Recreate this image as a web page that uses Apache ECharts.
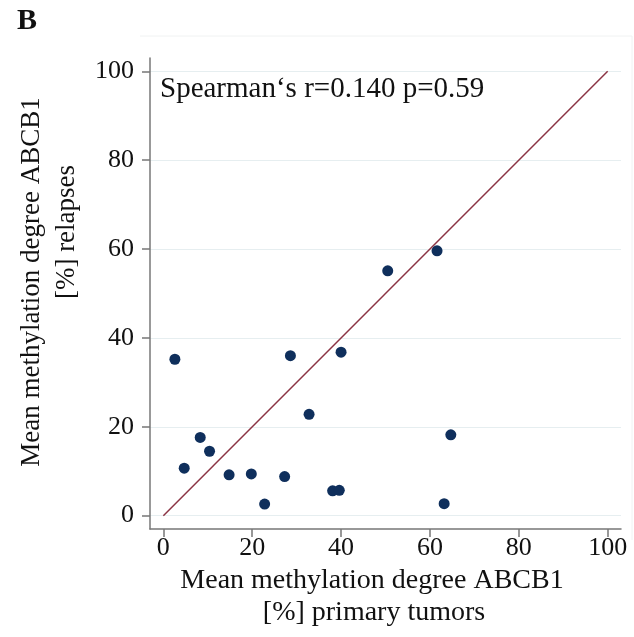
<!DOCTYPE html>
<html>
<head>
<meta charset="utf-8">
<script src="https://cdn.jsdelivr.net/npm/echarts@6/dist/echarts.min.js"></script>
<style>
  html, body { margin: 0; padding: 0; background: #fff; }
  #main { width: 634px; height: 637px; }
</style>
</head>
<body>
<div id="main"></div>
<script>
// mean methylation ABCB1 [%], primary tumor vs relapse
const primaryTumors = [2.6, 4.7, 8.3, 10.4, 14.8, 19.8, 22.8, 27.3, 28.6, 32.8, 38.1, 39.6, 40.0, 50.5, 61.6, 63.2, 64.7];
const relapses = [35.2, 10.7, 17.6, 14.5, 9.2, 9.4, 2.6, 8.8, 36.0, 22.8, 5.6, 5.7, 36.8, 55.1, 59.6, 2.7, 18.2];
const tickValues = [0, 20, 40, 60, 80, 100];
const identityLine = [[0, 0], [100, 100]];

const serif = '"Liberation Serif", "DejaVu Serif", serif';
const chart = echarts.init(document.getElementById('main'));

const points = primaryTumors.map(function (x, i) { return [x, relapses[i]]; });

function axisOpt() {
  return {
    type: 'value',
    min: -3,
    max: 103,
    axisLine: { show: true, onZero: false, lineStyle: { color: '#777', width: 1.5 } },
    axisTick: { show: true, customValues: tickValues, length: 8, lineStyle: { color: '#777', width: 1.5 } },
    axisLabel: { customValues: tickValues, color: '#111', fontFamily: serif, fontSize: 26, margin: 16 },
    splitLine: { show: false }
  };
}

var xAxis = axisOpt();
var yAxis = axisOpt();
xAxis.axisLabel.margin = 6;

var option = {
  animation: false,
  backgroundColor: '#fff',
  grid: { left: 150, right: 13, top: 58, bottom: 108 },
  xAxis: xAxis,
  yAxis: yAxis,
  series: [
    {
      type: 'line',
      data: tickValues.map(function (v) { return [v, 0]; }),
      symbol: 'none',
      lineStyle: { opacity: 0 },
      silent: true,
      z: 0,
      markLine: {
        silent: true,
        symbol: 'none',
        z: 0,
        label: { show: false },
        lineStyle: { color: '#e6eef0', width: 1.2, type: 'solid' },
        data: tickValues.map(function (v) { return { yAxis: v }; })
      }
    },
    {
      type: 'line',
      data: identityLine,
      symbol: 'none',
      lineStyle: { color: '#8b3444', width: 1.5 },
      z: 5
    },
    {
      type: 'scatter',
      data: points,
      symbolSize: 11,
      itemStyle: { color: '#0f2f5c', opacity: 1 },
      z: 6
    }
  ],
  graphic: [
    { type: 'text', left: 17, top: 6, style: { text: 'B', font: 'bold 30px ' + serif, fill: '#111' } },
    { type: 'line', shape: { x1: 140, y1: 36, x2: 632, y2: 36 }, style: { stroke: '#f0f2f2', lineWidth: 1 } },
    { type: 'line', shape: { x1: 632, y1: 36, x2: 632, y2: 540 }, style: { stroke: '#f0f2f2', lineWidth: 1 } },
    { type: 'text', x: 160, y: 89, style: { text: 'Spearman\u2018s r=0.140 p=0.59', font: '29px ' + serif, fill: '#111', textVerticalAlign: 'middle' } },
    { type: 'text', x: 372, y: 581, style: { text: 'Mean methylation degree ABCB1', font: '28px ' + serif, fill: '#111', textAlign: 'center', textVerticalAlign: 'middle' } },
    { type: 'text', x: 374, y: 613, style: { text: '[%] primary tumors', font: '28px ' + serif, fill: '#111', textAlign: 'center', textVerticalAlign: 'middle' } },
    { type: 'text', x: 32, y: 282, rotation: Math.PI / 2, style: { text: 'Mean methylation degree ABCB1', font: '27px ' + serif, fill: '#111', textAlign: 'center', textVerticalAlign: 'middle' } },
    { type: 'text', x: 67, y: 232, rotation: Math.PI / 2, style: { text: '[%] relapses', font: '27px ' + serif, fill: '#111', textAlign: 'center', textVerticalAlign: 'middle' } }
  ]
};

chart.setOption(option);
</script>
</body>
</html>
